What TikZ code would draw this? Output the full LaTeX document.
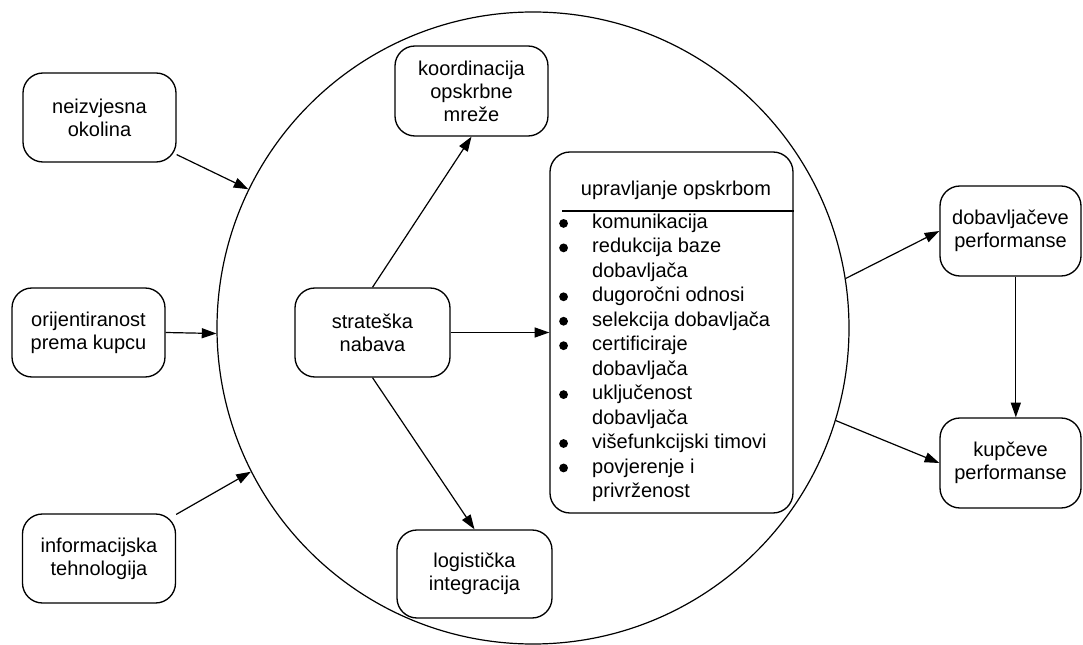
\documentclass[tikz,border=0pt]{standalone}
\usepackage{fontspec}
\setmainfont{Liberation Sans}
\usetikzlibrary{arrows.meta}
\newcommand{\bigbul}{\makebox[25.1pt][l]{\hspace{0.3pt}\tikz[baseline=-3.8pt]\fill (0pt,0pt) circle[radius=3.3pt];}}
\begin{document}
\begin{tikzpicture}[x=0.75pt,y=-0.75pt,
  lw/.style={line width=0.9pt},
  box/.style={line width=1pt, draw, rounded corners=15pt, inner sep=0pt, align=center,
    minimum width=114.75pt, minimum height=66.75pt,
    font=\fontsize{15}{17.25}\selectfont},
  arr/.style={lw, -{Triangle[length=11pt,width=7.5pt]}},
]
\useasboundingbox (0,0) rectangle (1083,645);

% big circle
\node[lw, draw, circle, minimum size=474pt, inner sep=0pt] (C) at (533,328) {};
\coordinate (cNei) at (C.154.7);
\coordinate (cOri) at (C.181);
\coordinate (cInf) at (C.207.8);
\coordinate (cDob) at (C.9.4);
\coordinate (cKup) at (C.343.8);

% left boxes
\node[box] (nei) at (99.5,117.5) {neizvjesna\\okolina};
\node[box] (ori) at (88.5,332.5) {orijentiranost\\prema kupcu};
\node[box] (inf) at (99,558.5) {informacijska\\tehnologija};

% inner boxes
\node[box, minimum width=116.25pt] (str) at (372.5,332.5) {strateška\\nabava};
\node[box, minimum height=67.5pt] (koo) at (471.5,91) {koordinacija\\opskrbne\\mreže};
\node[box, minimum width=116.25pt, minimum height=66pt] (log) at (474.5,574) {logistička\\integracija};

% big list box
\node[box, minimum width=182.25pt, minimum height=270.75pt] (upr) at (671.5,332.5) {};
\node[anchor=base, inner sep=0pt, font=\fontsize{15}{17.25}\selectfont] (hdr) at (676,195.5) {upravljanje opskrbom};
\coordinate (hl) at (562,211);
\draw[lw] (hl) -- (hl -| upr.east);
\node[anchor=base west, inner sep=0pt, font=\fontsize{15}{18.34}\selectfont] (lst) at (558.5,228.5) {%
\begin{tabular}[t]{@{}l@{}l@{}}
\bigbul & komunikacija\\
\bigbul & redukcija baze\\
 & dobavljača\\
\bigbul & dugoročni odnosi\\
\bigbul & selekcija dobavljača\\
\bigbul & certificiraje\\
 & dobavljača\\
\bigbul & uključenost\\
 & dobavljača\\
\bigbul & višefunkcijski timovi\\
\bigbul & povjerenje i\\
 & privrženost
\end{tabular}};

% right boxes
\node[box, minimum width=105.75pt, minimum height=67.5pt] (dob) at (1010.5,231) {dobavljačeve\\performanse};
\node[box, minimum width=105.75pt, minimum height=67.5pt] (kup) at (1010.5,463) {kupčeve\\performanse};

% connectors
\draw[arr] (nei) -- (cNei);
\draw[arr] (ori.east) -- (cOri);
\draw[arr] (inf) -- (cInf);
\draw[arr] (str.north) -- (koo.south);
\draw[arr] (str.south) -- (log.north);
\draw[arr] (str.east) -- (upr.west);
\draw[arr] (cDob) -- (dob.west);
\draw[arr] (cKup) -- (kup.west);
\draw[arr] ([xshift=4pt]dob.south) -- ([xshift=4pt]kup.north);
\end{tikzpicture}
\end{document}
